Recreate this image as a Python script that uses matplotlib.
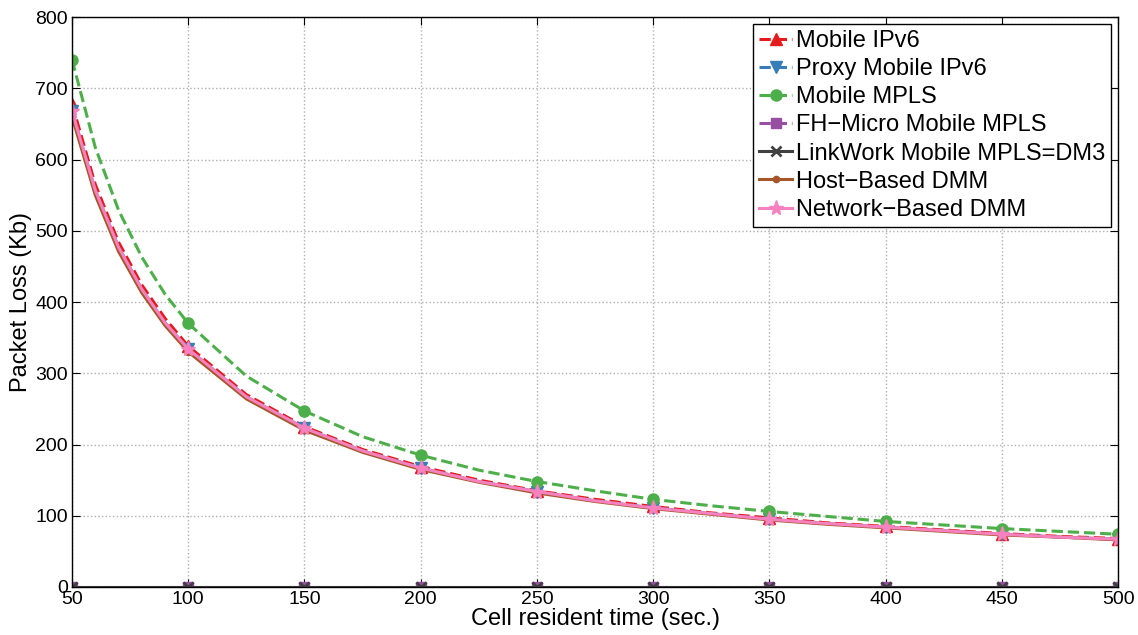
import matplotlib
matplotlib.use('Agg')
import matplotlib.pyplot as plt
import numpy as np

plt.rcParams['font.family'] = ['Liberation Sans', 'DejaVu Sans']

# cell resident time (sec.), markers only on multiples of 50
cell_time = [50, 60, 70, 80, 90, 100, 125, 150, 175, 200, 225, 250, 275, 300,
             325, 350, 375, 400, 425, 450, 475, 500]

mobile_ipv6 = [678, 565, 484, 424, 377, 338, 270, 225, 193, 169, 150, 135, 123, 113,
               104, 97, 90, 85, 80, 75, 71, 68]
proxy_mipv6 = [668, 557, 477, 418, 371, 334, 267, 223, 191, 167, 148, 134, 121, 111,
               103, 95, 89, 84, 79, 74, 70, 67]
mobile_mpls = [740, 617, 529, 463, 411, 370, 296, 247, 211, 185, 164, 148, 135, 123,
               114, 106, 99, 92, 87, 82, 78, 74]
fh_micro = [0] * 22
linkwork = [0] * 22
host_dmm = [660, 550, 471, 413, 367, 330, 264, 220, 189, 165, 147, 132, 120, 110,
            102, 94, 88, 83, 78, 73, 70, 66]
net_dmm = [668, 557, 477, 418, 371, 334, 267, 223, 191, 167, 148, 134, 121, 111,
           103, 95, 89, 84, 79, 74, 70, 67]

series = [
    ('Mobile IPv6', mobile_ipv6, '#e41a1c', '--', '^', 9),
    ('Proxy Mobile IPv6', proxy_mipv6, '#377eb8', '--', 'v', 9),
    ('Mobile MPLS', mobile_mpls, '#4daf4a', '--', 'o', 8),
    ('FH\u2212Micro Mobile MPLS', fh_micro, '#984ea3', '--', 's', 7),
    ('LinkWork Mobile MPLS=DM3', linkwork, '#404040', '-', 'x', 7),
    ('Host\u2212Based DMM', host_dmm, '#a65628', '-', '.', 9),
    ('Network\u2212Based DMM', net_dmm, '#f781bf', '-', '*', 11),
]

mark_idx = [i for i, t in enumerate(cell_time) if t % 50 == 0]

fig = plt.figure(figsize=(11.38, 6.35), dpi=100)
ax = fig.add_axes([0.0633, 0.0756, 0.9192, 0.8976])

for name, vals, col, ls, mk, ms in series:
    ax.plot(cell_time, vals, color=col, linestyle=ls, linewidth=2.2,
            marker=mk, markersize=ms, markevery=mark_idx, label=name,
            markeredgewidth=2 if mk == 'x' else 1)

ax.set_xlim(50, 500)
ax.set_ylim(0, 800)
ax.set_xticks(np.arange(50, 501, 50))
ax.set_yticks(np.arange(0, 801, 100))
ax.tick_params(direction='in', length=6, top=True, right=True, labelsize=14, pad=3)
ax.grid(True, linestyle=':', color='#b0b0b0', linewidth=1)
for s in ax.spines.values():
    s.set_linewidth(1)

ax.set_xlabel('Cell resident time (sec.)', fontsize=17, labelpad=0)
ax.set_ylabel('Packet Loss (Kb)', fontsize=17, labelpad=2)

leg = ax.legend(loc='upper right', fontsize=17, fancybox=False, framealpha=1,
                edgecolor='black', handlelength=1.4, handletextpad=0.15,
                borderpad=0.25, labelspacing=0.26, borderaxespad=0.3)
leg.get_frame().set_linewidth(1)

fig.savefig('out.png', dpi=100)
